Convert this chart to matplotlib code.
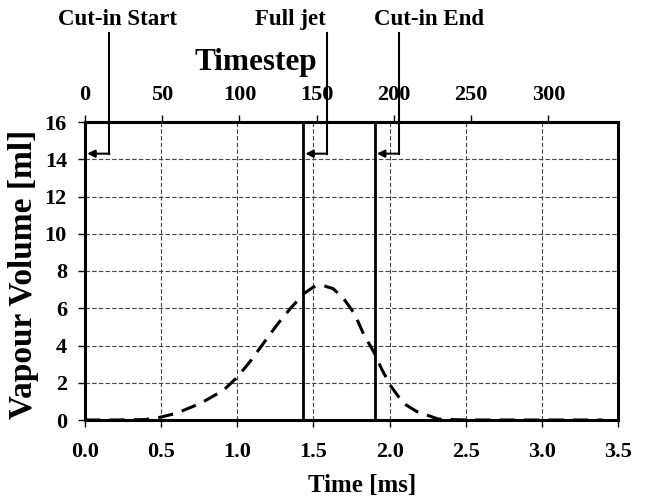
import matplotlib.pyplot as plt

plt.rcParams['font.family'] = ['Liberation Serif', 'DejaVu Serif']
plt.rcParams['font.weight'] = 'bold'

# vapour volume curve
time_ms = [0.0, 0.2, 0.39, 0.49, 0.60, 0.76, 0.91, 1.0, 1.09, 1.17, 1.26, 1.35, 1.44,
           1.50, 1.56, 1.63, 1.70, 1.77, 1.83, 1.90, 1.95, 2.01, 2.09, 2.18, 2.32, 2.5, 3.0, 3.4]
vapour_ml = [0.0, 0.0, 0.02, 0.14, 0.36, 0.9, 1.6, 2.3, 3.2, 4.1, 5.1, 6.0, 6.8,
             7.14, 7.23, 7.05, 6.5, 5.7, 4.6, 3.6, 2.7, 1.8, 0.9, 0.45, 0.05, 0.0, 0.0, 0.0]

event_names = ['Cut-in Start', 'Full jet', 'Cut-in End']
event_times = [0.0, 1.432, 1.902]
label_x = [0.213, 1.35, 2.26]
bend_x = [0.16, 1.59, 2.06]

x_ticks = [0.0, 0.5, 1.0, 1.5, 2.0, 2.5, 3.0, 3.5]
top_ticks = [0, 50, 100, 150, 200, 250, 300]
y_ticks = list(range(0, 17, 2))

fig = plt.figure(figsize=(6.46, 5.04), dpi=100)
ax = fig.add_axes([85 / 646, 84 / 504, 533 / 646, 298 / 504])

ax.plot(time_ms, vapour_ml, color='black', lw=2.2, linestyle=(0, (5, 3)), zorder=3)
for t in event_times:
    ax.axvline(t, color='black', lw=2, zorder=4)

ax.set_xlim(0, 3.5)
ax.set_ylim(0, 16)
ax.set_xticks(x_ticks)
ax.set_xticklabels([f'{v:.1f}' for v in x_ticks])
ax.set_yticks(y_ticks)
ax.grid(True, color='#444444', linestyle=(0, (4, 2)), lw=0.8)
ax.set_axisbelow(True)
for s in ax.spines.values():
    s.set_linewidth(2.2)
ax.tick_params(labelsize=16, width=1, length=5, pad=8)
ax.tick_params(axis='x', pad=11)
ax.set_xlabel('Time [ms]', fontsize=18, fontweight='bold')
ax.xaxis.set_label_coords(0.52, -0.22)
ax.xaxis.label.set_va('center')
ax.set_ylabel('Vapour Volume [ml]', fontsize=24, fontweight='bold')
ax.yaxis.set_label_coords(-0.115, 0.49)
ax.yaxis.label.set_va('center')

top = ax.twiny()
top.set_xlim(0, 345)
top.set_xticks(top_ticks)
top.tick_params(labelsize=16, width=1, length=5, pad=7)
top.spines['top'].set_linewidth(2.2)
top.set_xlabel('Timestep', fontsize=22.5, fontweight='bold')
top.xaxis.set_label_coords(0.32, 1.2)
top.xaxis.label.set_va('center')

# annotation leaders: text -> down -> arrow left to the event line
y_arrow = 14.3
for name, t, lx, bx in zip(event_names, event_times, label_x, bend_x):
    ax.plot([bx, bx], [y_arrow, 20.8], color='black', lw=1.5, clip_on=False, zorder=5)
    ax.annotate('', xy=(t + 0.015, y_arrow), xytext=(bx, y_arrow),
                arrowprops=dict(arrowstyle='-|>', color='black', lw=1.5,
                                shrinkA=0, shrinkB=0, mutation_scale=11),
                annotation_clip=False, zorder=5)
    ax.text(lx, 21.5, name, fontsize=16.5, fontweight='bold', ha='center', va='center',
            clip_on=False)

fig.savefig('out.png', dpi=100)
